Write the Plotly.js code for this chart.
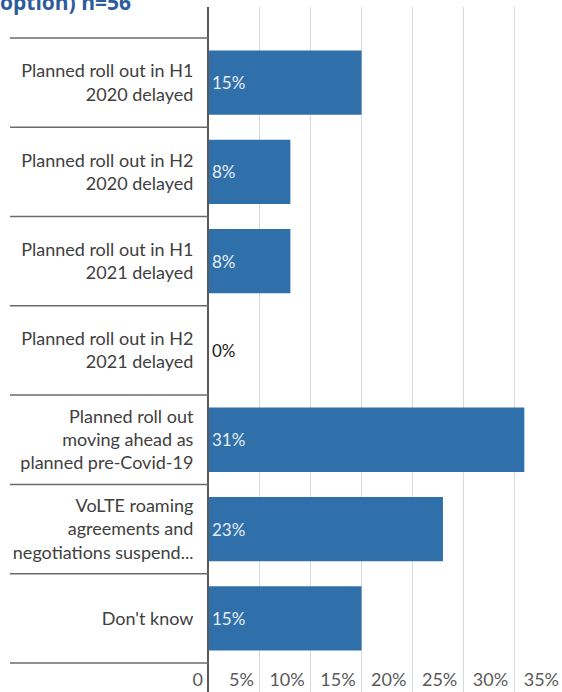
<!DOCTYPE html>
<html>
<head>
<meta charset="utf-8">
<script src="https://cdn.plot.ly/plotly-3.0.1.min.js"></script>
<style>
html,body{margin:0;padding:0;overflow:hidden;background:#fff;}
#chart{width:600px;height:696px;}
</style>
</head>
<body>
<div id="chart"></div>
<script>
const categories = [
  "Planned roll out in H1<br>2020 delayed",
  "Planned roll out in H2<br>2020 delayed",
  "Planned roll out in H1<br>2021 delayed",
  "Planned roll out in H2<br>2021 delayed",
  "Planned roll out<br>moving ahead as<br>planned pre-Covid-19",
  "VoLTE roaming<br>agreements and<br>negotiations suspend...",
  "Don't know"
];
const values = [15, 8, 8, 0, 31, 23, 15];
const tickValues = [0, 5, 10, 15, 20, 25, 30, 35];
const tickLabels = ["0", "5%", "10%", "15%", "20%", "25%", "30%", "35%"];
const titleText = "option) n=56";

const W = 600, H = 696, ML = 209, MR = 35, MT = 7, MB = 0;
const plotW = W - ML - MR;

const shapes = [];
for (let i = 0; i <= categories.length; i++) {
  shapes.push({
    type: 'line', xref: 'paper', yref: 'y',
    x0: -(ML - 10) / plotW, x1: 0, y0: i - 0.5, y1: i - 0.5,
    line: {color: '#6b6b6b', width: 1.5}, layer: 'above'
  });
}

const trace = {
  type: 'bar', orientation: 'h',
  x: values, y: categories,
  marker: {color: '#3070aa'},
  text: values.map(v => v + '%'),
  textposition: 'auto',
  insidetextanchor: 'start',
  constraintext: 'none',
  insidetextfont: {family: 'Lato, sans-serif', size: 17, color: '#e6ecf4'},
  outsidetextfont: {family: 'Lato, sans-serif', size: 17, color: '#1a1a1a'},
  cliponaxis: false,
  hoverinfo: 'skip'
};

// zero-valued bars have no visible body, so their label is placed at the bar's data position
const zeroLabels = [];
values.forEach((v, i) => {
  if (v === 0) {
    zeroLabels.push({
      x: v, y: categories[i], xref: 'x', yref: 'y',
      text: v + '%', showarrow: false, xanchor: 'left', xshift: 1,
      font: {family: 'Lato, sans-serif', size: 17, color: '#1a1a1a'}
    });
  }
});

const layout = {
  width: W, height: H,
  margin: {l: ML, r: MR, t: MT, b: MB, pad: 0},
  paper_bgcolor: '#fff', plot_bgcolor: '#fff',
  bargap: 0.28,
  showlegend: false,
  font: {family: 'Lato, sans-serif', size: 18, color: '#404040'},
  xaxis: {
    range: [0, 35],
    tickvals: tickValues, ticktext: tickLabels,
    showgrid: true, gridcolor: '#d9d9d9', gridwidth: 1,
    zeroline: false, showline: false,
    ticks: '', ticklabelposition: 'inside left',
    ticklabeloverflow: 'allow',
    ticklabelshift: -6,
    tickfont: {family: 'Lato, sans-serif', size: 18, color: '#595959'},
    fixedrange: true
  },
  yaxis: {
    type: 'category',
    range: [6.87, -0.847],
    showgrid: false, zeroline: false,
    showline: true, linecolor: '#595959', linewidth: 2,
    ticks: '', ticklabelstandoff: 10,
    tickfont: {family: 'Lato, sans-serif', size: 18, color: '#404040'},
    fixedrange: true
  },
  shapes: shapes,
  annotations: zeroLabels.concat([{
    text: '<b>' + titleText + '</b>',
    xref: 'paper', yref: 'paper', x: 0, y: 1,
    xanchor: 'left', yanchor: 'middle',
    xshift: -ML - 2, yshift: 5,
    showarrow: false,
    font: {family: 'Open Sans, sans-serif', size: 21, color: '#2d5c9c'}
  }])
};

Plotly.newPlot('chart', [trace], layout, {displayModeBar: false, staticPlot: true});
</script>
</body>
</html>
